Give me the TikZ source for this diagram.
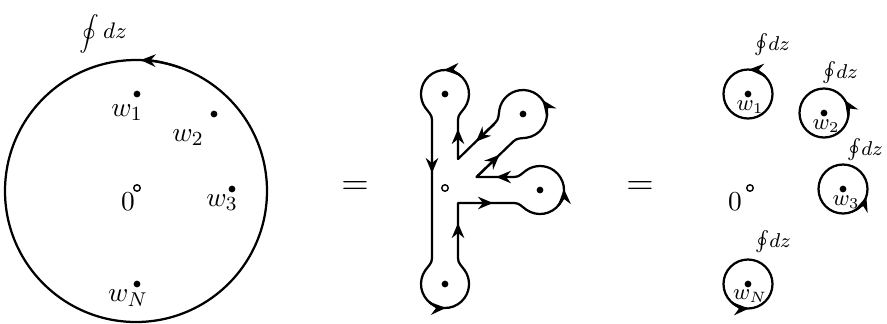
\documentclass[tikz,border=0pt]{standalone}
\usepackage{amsmath}
\usetikzlibrary{arrows.meta,calc}
\begin{document}
\begin{tikzpicture}[x=0.4pt,y=0.4pt,
  contour/.style={line width=0.9pt, line join=round},
  tip/.style={line width=0.9pt, -{Stealth[length=6pt,width=5pt,inset=2pt]}},
  dotpt/.style={circle, fill, inner sep=0pt, minimum size=2.7pt},
  zeropt/.style={circle, draw, fill=white, line width=0.55pt, inner sep=0pt, minimum size=2.6pt},
  lab/.style={inner sep=0pt, font=\fontsize{11}{13}\selectfont},
  slab/.style={inner sep=0pt, font=\fontsize{9}{11}\selectfont},
  ilab/.style={inner sep=0pt, font=\fontsize{8}{10}\selectfont},
  eqlab/.style={inner sep=0pt, font=\fontsize{15}{17}\selectfont}]
\useasboundingbox (0,0) rectangle (887,323);

% ---------- left: big circle ----------
\coordinate (C0) at (136,132);
\draw[contour] (C0) circle[radius=131];
\draw[tip] ($(C0)+(70:131)$) arc[start angle=70,end angle=88,radius=131];
\node[inner sep=0pt] (bigint) at (103,289) {{\fontsize{7}{8}\selectfont$\displaystyle\oint$}\,{\fontsize{9.5}{11}\selectfont$dz$}};
\node[dotpt] (a1) at (137,229) {};
\node[dotpt] (a2) at (214,209) {};
\node[dotpt] (a3) at (232,134) {};
\node[dotpt] (aN) at (137,39) {};
\node[zeropt] (a0) at (137,135) {};
\node[lab] (la1) at (127,210) {$w_1$};
\node[lab] (la2) at (188,185) {$w_2$};
\node[lab] (la3) at (222,120) {$w_3$};
\node[lab] (laN) at (128,25) {$w_N$};
\node[lab] (la0) at (128,121) {$0$};

\node[eqlab] (eq1) at (355,135) {$=$};
\node[eqlab] (eq2) at (640,135) {$=$};

% ---------- middle: deformed contour ----------
\coordinate (T) at (445,229);
\coordinate (B) at (445,39);
\coordinate (C) at (540,133);
\coordinate (D) at (523,209);
\coordinate (J1) at (458,120);
\coordinate (J2) at (476.5,146);
\coordinate (J3) at (458,164);
\draw[contour]
  ($(T)+(90:-26)+(180:13)$) -- ($(B)+(-90:-26)+(0:-13)$)
  to[out=-90,in=55] ($(B)+(-215:24)$) arc[start angle=-215,end angle=35,radius=24]
  to[out=125,in=-90] ($(B)+(-90:-26)+(0:13)$)
  -- (J1) -- ($(C)+(0:-26)+(90:-13)$)
  to[out=0,in=145] ($(C)+(-125:24)$) arc[start angle=-125,end angle=125,radius=24]
  to[out=-145,in=0] ($(C)+(0:-26)+(90:13)$)
  -- (J2) -- ($(D)+(44:-26)+(134:-13)$)
  to[out=44,in=189] ($(D)+(-81:24)$) arc[start angle=-81,end angle=169,radius=24]
  to[out=-101,in=44] ($(D)+(44:-26)+(134:13)$)
  -- (J3) -- ($(T)+(90:-26)+(180:-13)$)
  to[out=90,in=235] ($(T)+(-35:24)$) arc[start angle=-35,end angle=215,radius=24]
  to[out=-55,in=90] ($(T)+(90:-26)+(180:13)$) -- cycle;
% arrows on the contour
\draw[tip] (432,180) -- (432,150);
\draw[tip] ($(B)+(-130:24)$) arc[start angle=-130,end angle=-88,radius=24];
\draw[tip] (458,70) -- (458,100);
\draw[tip] (461,120) -- (493,120);
\draw[tip] ($(C)+(-40:24)$) arc[start angle=-40,end angle=2,radius=24];
\draw[tip] (513,146) -- (496,146);
\draw[tip] ($(J2)+(44:2)$) -- ($(J2)+(44:32)$);
\draw[tip] ($(D)+(-5:24)$) arc[start angle=-5,end angle=36,radius=24];
\draw[tip] ($(J3)+(44:50)$) -- ($(J3)+(44:25)$);
\draw[tip] (458,165) -- (458,194);
\draw[tip] ($(T)+(50:24)$) arc[start angle=50,end angle=93,radius=24];
\node[dotpt] (m1) at (T) {};
\node[dotpt] (mN) at (B) {};
\node[dotpt] (m3) at (C) {};
\node[dotpt] (m2) at (D) {};
\node[zeropt] (m0) at (445,135) {};

% ---------- right: small circles ----------
\coordinate (Q1) at (748,229);
\coordinate (Q2) at (824,210);
\coordinate (Q3) at (843,134);
\coordinate (QN) at (748,39);
\foreach \q in {Q1,Q2,Q3,QN}{\draw[contour] (\q) circle[radius=24.5];}
\draw[tip] ($(Q1)+(45:24.5)$) arc[start angle=45,end angle=88,radius=24.5];
\draw[tip] ($(Q2)+(-10:24.5)$) arc[start angle=-10,end angle=32,radius=24.5];
\draw[tip] ($(Q3)+(-60:24.5)$) arc[start angle=-60,end angle=-18,radius=24.5];
\draw[tip] ($(QN)+(-130:24.5)$) arc[start angle=-130,end angle=-88,radius=24.5];
\node[dotpt] (r1) at (Q1) {};
\node[dotpt] (r2) at (Q2) {};
\node[dotpt] (r3) at (Q3) {};
\node[dotpt] (rN) at (QN) {};
\node[zeropt] (r0) at (750,135) {};
\node[slab] (lr1) at (750,216) {$w_1$};
\node[slab] (lr2) at (826,197) {$w_2$};
\node[slab] (lr3) at (846,121) {$w_3$};
\node[slab] (lrN) at (750,27) {$w_N$};
\node[lab] (lr0) at (735,121) {$0$};
\node[ilab] (i1) at (772,278) {$\oint\!dz$};
\node[ilab] (i2) at (840,250) {$\oint\!dz$};
\node[ilab] (i3) at (865,173) {$\oint\!dz$};
\node[ilab] (iN) at (773,81) {$\oint\!dz$};
\end{tikzpicture}
\end{document}
